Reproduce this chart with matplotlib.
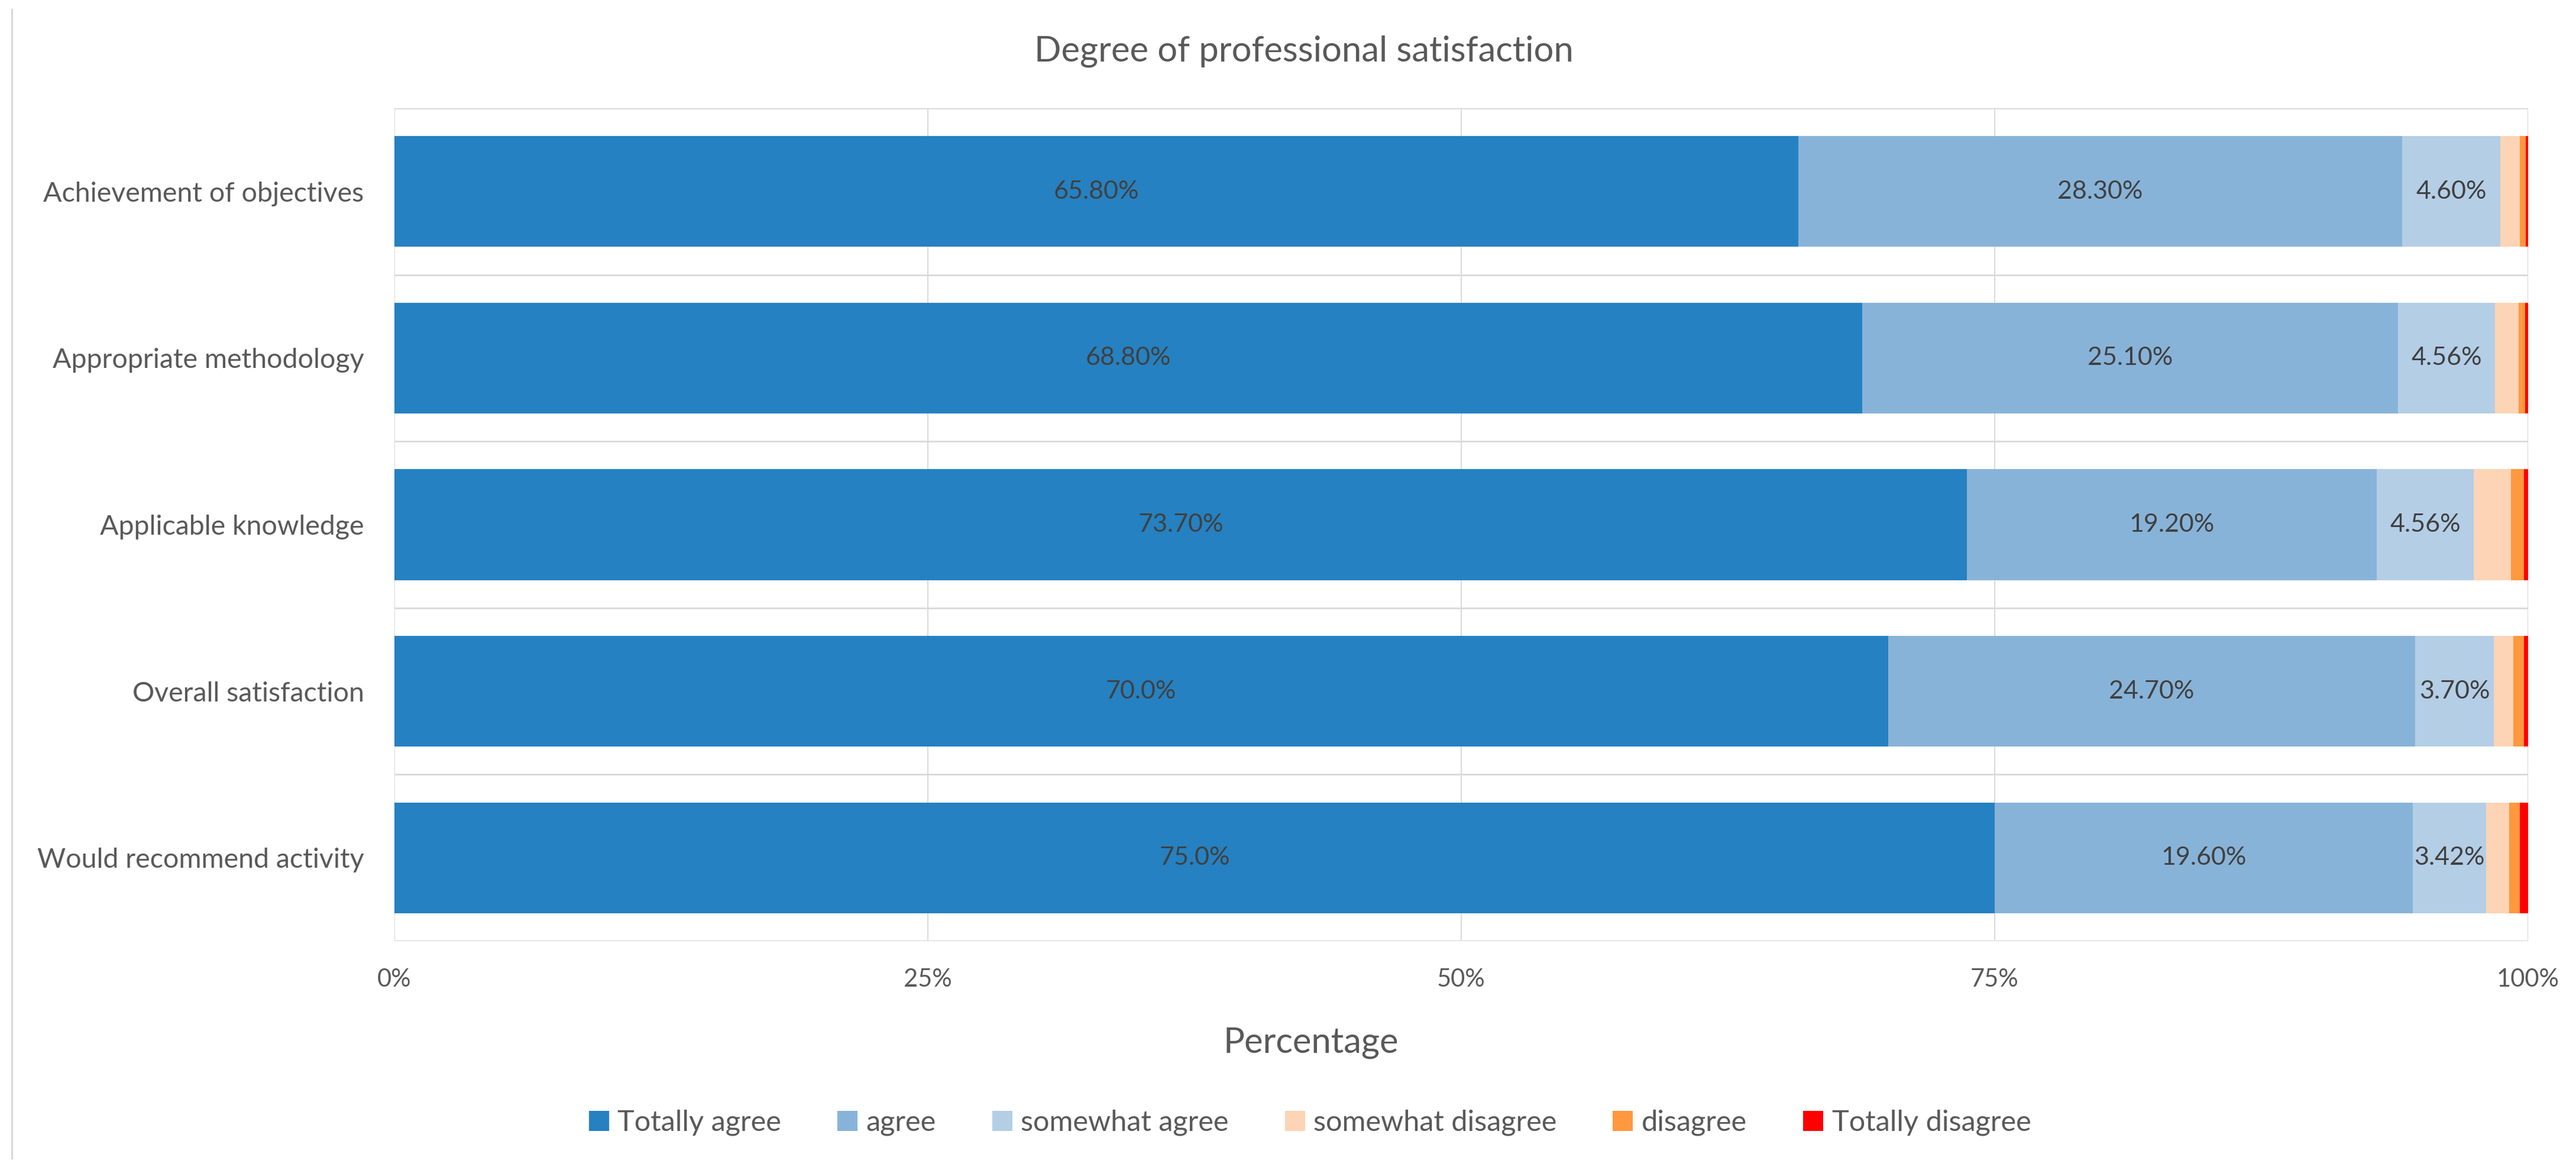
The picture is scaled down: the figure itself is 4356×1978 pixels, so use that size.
import matplotlib
matplotlib.use("Agg")
import matplotlib.pyplot as plt
from matplotlib.lines import Line2D

plt.rcParams['font.family'] = ['Lato', 'DejaVu Sans']

# data (percent of respondents)
categories = ["Achievement of objectives", "Appropriate methodology", "Applicable knowledge",
              "Overall satisfaction", "Would recommend activity"]
series_names = ["Totally agree", "agree", "somewhat agree", "somewhat disagree", "disagree", "Totally disagree"]
series_colors = ["#2581C1", "#88B3D8", "#B4CEE6", "#FDD4B5", "#FF983F", "#FF0000"]

totally_agree = [65.8, 68.8, 73.7, 70.0, 75.0]
agree = [28.3, 25.1, 19.2, 24.7, 19.6]
somewhat_agree = [4.6, 4.56, 4.56, 3.7, 3.42]
somewhat_disagree = [0.9, 1.1, 1.74, 0.9, 1.1]
disagree = [0.3, 0.3, 0.6, 0.5, 0.5]
totally_disagree = [0.1, 0.14, 0.2, 0.2, 0.38]

ta_labels = ["65.80%", "68.80%", "73.70%", "70.0%", "75.0%"]
a_labels = ["28.30%", "25.10%", "19.20%", "24.70%", "19.60%"]
sa_labels = ["4.60%", "4.56%", "4.56%", "3.70%", "3.42%"]

xticks = [0, 25, 50, 75, 100]
xtick_labels = ["0%", "25%", "50%", "75%", "100%"]

W, H = 4356, 1978
fig = plt.figure(figsize=(W / 100, H / 100), dpi=100)
ax = fig.add_axes([667 / W, 1 - 1591 / H, (4275 - 667) / W, (1591 - 183) / H])

grid_col = "#D9D9D9"
text_col = "#595959"

series = [totally_agree, agree, somewhat_agree, somewhat_disagree, disagree, totally_disagree]
ypos = list(range(len(categories)))
lefts = [0.0] * len(categories)
containers = []
for name, vals, col in zip(series_names, series, series_colors):
    bc = ax.barh(ypos, vals, left=lefts, height=0.665, color=col, label=name, zorder=3)
    containers.append(bc)
    lefts = [l + v for l, v in zip(lefts, vals)]

for bc, labs in zip(containers[:3], [ta_labels, a_labels, sa_labels]):
    ax.bar_label(bc, labels=labs, label_type='center', fontsize=31, color="#404040", zorder=5)

ax.set_xlim(0, 100)
ax.set_ylim(len(categories) - 0.5, -0.5)
for s in ax.spines.values():
    s.set_visible(False)

for x in xticks:
    ax.axvline(x, color=grid_col, lw=1.4, zorder=1)
for i in range(len(categories)):
    ax.axhline(i - 0.5, color=grid_col, lw=2.0, zorder=1)
ax.axhline(len(categories) - 0.5, color=grid_col, lw=2.4, zorder=2)

ax.set_xticks(xticks)
ax.set_xticklabels(xtick_labels)
ax.set_yticks(ypos)
ax.set_yticklabels(categories)
ax.tick_params(axis='x', length=0, pad=33, labelsize=30, labelcolor=text_col)
ax.tick_params(axis='y', length=0, pad=37, labelsize=33.5, labelcolor=text_col)

fig.text(2205 / W, 1 - 87 / H, "Degree of professional satisfaction", ha='center', va='center',
         fontsize=43, color=text_col)
fig.text(2217 / W, 1 - 1763 / H, "Percentage", ha='center', va='center', fontsize=43, color=text_col)

fig.legend(handles=containers, labels=series_names, loc='center', bbox_to_anchor=(2215 / W, 1 - 1898 / H),
           ncol=6, frameon=False, fontsize=35, labelcolor=text_col, handlelength=0.7, handleheight=0.7,
           handletextpad=0.3, columnspacing=1.95)

fig.add_artist(Line2D([20 / W, 20 / W], [1 - 16 / H, 1 - 1958 / H], color=grid_col, lw=2.2,
                      transform=fig.transFigure))

fig.savefig("out.png", dpi=100, facecolor="white")
